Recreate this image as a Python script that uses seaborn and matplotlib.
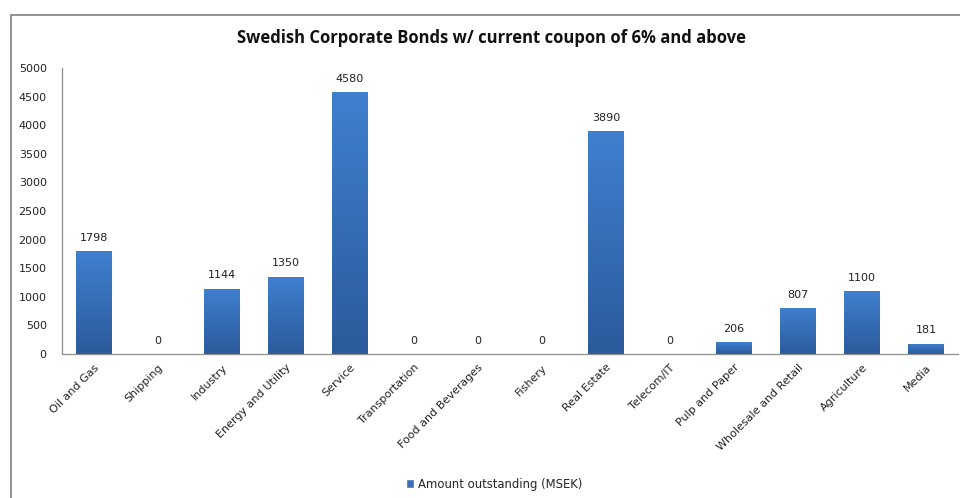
import numpy as np
import pandas as pd
import matplotlib
matplotlib.use("Agg")
import matplotlib.pyplot as plt
import seaborn as sns
from matplotlib.patches import Rectangle
from matplotlib.colors import LinearSegmentedColormap

categories = ["Oil and Gas", "Shipping", "Industry", "Energy and Utility", "Service",
              "Transportation", "Food and Beverages", "Fishery", "Real Estate",
              "Telecom/IT", "Pulp and Paper", "Wholesale and Retail", "Agriculture", "Media"]
values = [1798, 0, 1144, 1350, 4580, 0, 0, 0, 3890, 0, 206, 807, 1100, 181]
series_name = "Amount outstanding (MSEK)"
title = "Swedish Corporate Bonds w/ current coupon of 6% and above"
yticks = [0, 500, 1000, 1500, 2000, 2500, 3000, 3500, 4000, 4500, 5000]

df = pd.DataFrame({"category": categories, "value": values})

sns.set_theme(style="white")
plt.rcParams['font.family'] = ['DejaVu Sans']

fig = plt.figure(figsize=(9.6, 4.98), dpi=100)
ax = fig.add_axes([62/960, 1-354/498, (958-62)/960, (354-68)/498])

sns.barplot(data=df, x="category", y="value", color="#3a6fb8", width=0.5625,
            ax=ax, saturation=1, errorbar=None)

# gradient fill on each bar
cmap = LinearSegmentedColormap.from_list("g", ["#2c5a9b", "#3f80cf"])
grad = np.linspace(0, 1, 256).reshape(-1, 1)
for p in list(ax.patches):
    h = p.get_height()
    if h <= 0:
        continue
    x0 = p.get_x(); w = p.get_width()
    im = ax.imshow(grad, cmap=cmap, origin="lower", aspect="auto",
                   extent=[x0, x0 + w, 0, h], zorder=p.get_zorder() + 0.1)
    im.set_clip_path(p)

ax.set_xlim(-0.5, len(categories) - 0.5)
ax.set_ylim(0, 5000)
ax.set_yticks(yticks)
ax.set_yticklabels([str(t) for t in yticks], fontsize=8, color="#222222")
ax.set_xticks(range(len(categories)))
ax.set_xticklabels(categories, rotation=45, ha="right", rotation_mode="anchor",
                   fontsize=8, color="#222222")
ax.tick_params(axis="both", length=0)
ax.tick_params(axis="y", pad=11)
ax.tick_params(axis="x", pad=6)
ax.set_xlabel("")
ax.set_ylabel("")

for s in ["top", "right"]:
    ax.spines[s].set_visible(False)
for s in ["left", "bottom"]:
    ax.spines[s].set_color("#8c8c8c")
    ax.spines[s].set_linewidth(0.9)

for i, v in enumerate(values):
    ax.annotate(str(v), (i, v), xytext=(0, 6), textcoords="offset points",
                ha="center", va="bottom", fontsize=8, color="#222222")

fig.text(492/960, 1-38/498, title, ha="center", va="center",
         fontsize=12, fontweight="bold", color="#111111",
         family=["Open Sans", "DejaVu Sans"])

handle = Rectangle((0, 0), 1, 1, facecolor="#3a6fb8")
fig.legend([handle], [series_name], loc="center", bbox_to_anchor=(494/960, 1-484/498),
           frameon=False, fontsize=8.4, handlelength=0.75, handleheight=0.75,
           handletextpad=0.3)

# outer frame
frame = Rectangle((10.5/960, -0.01), 1.0, 1 - 14.5/498 + 0.01, transform=fig.transFigure,
                  fill=False, edgecolor="#8a8a8a", linewidth=1.3)
fig.patches.append(frame)

fig.savefig("out.png", dpi=100)
